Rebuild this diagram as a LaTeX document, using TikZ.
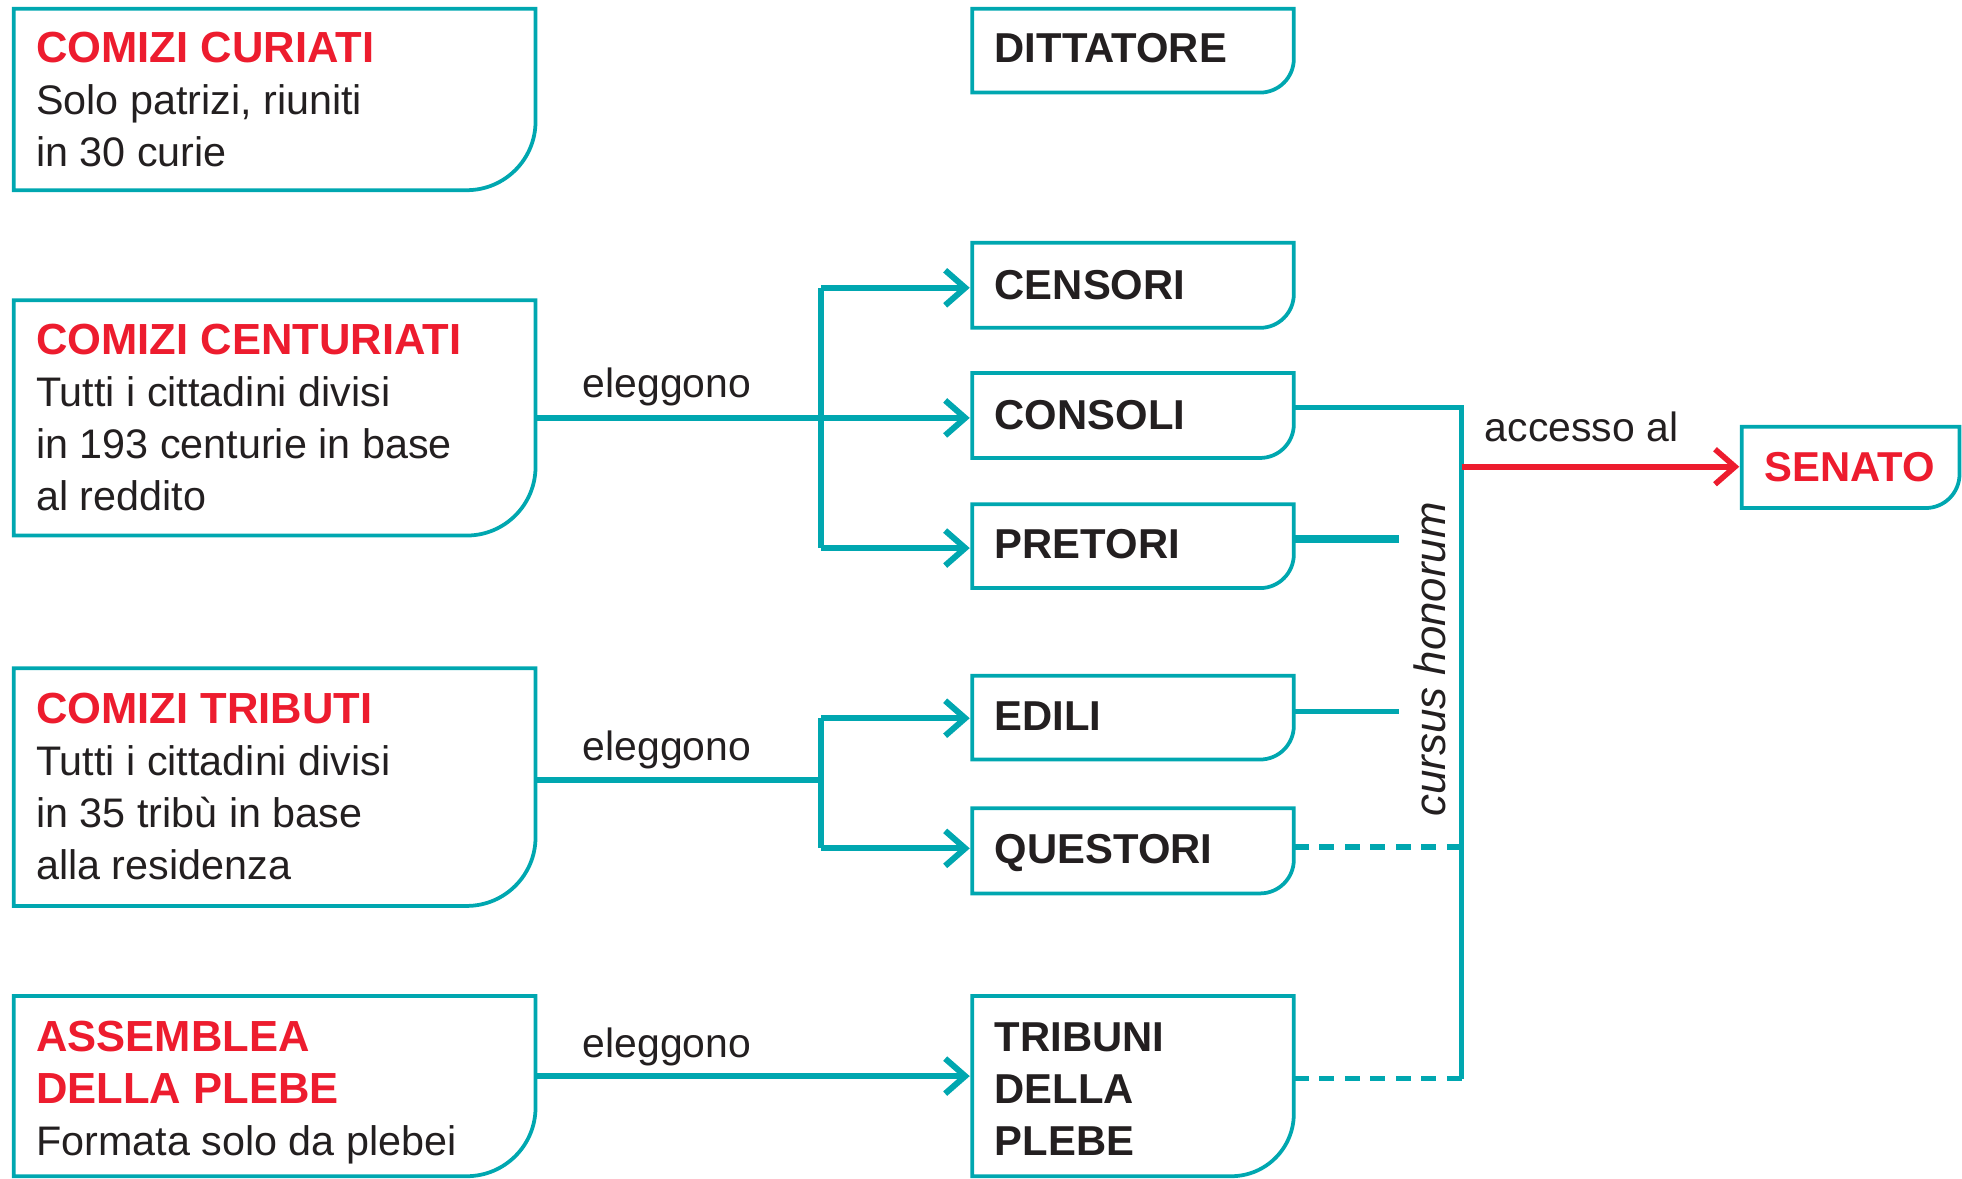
\documentclass[tikz,border=0pt]{standalone}
\usepackage{fontspec}
\setmainfont{Liberation Sans}
\usetikzlibrary{arrows.meta}
\definecolor{tealc}{HTML}{00A7B0}
\definecolor{redc}{HTML}{ED1C2E}
\definecolor{ink}{HTML}{231F20}
\newcommand{\hd}[1]{{\fontsize{34.8}{41.7}\selectfont\bfseries\color{redc}#1}}
\newcommand{\boxoutline}[2]{%
  \draw[boxline] (#1.north west) -- (#1.north east) -- ([yshift=#2]#1.south east)
    arc[start angle=0,end angle=-90,radius=#2] -- (#1.south west) -- cycle;}
\tikzset{
  boxarea/.style={draw=none,inner sep=0pt,outer sep=0pt,anchor=north west},
  boxline/.style={draw=tealc,line width=3pt},
  txt/.style={inner sep=0pt,outer sep=0pt,text=ink,font=\fontsize{33}{41.7}\selectfont,anchor=base west},
  boxtitle/.style={inner sep=0pt,outer sep=0pt,text=ink,font=\fontsize{33.4}{41.7}\selectfont\bfseries,anchor=base west},
  lbl/.style={inner sep=0pt,outer sep=0pt,text=ink,font=\fontsize{32.7}{41.7}\selectfont,anchor=base},
  conn/.style={draw=tealc,line width=4.8pt},
  arr/.style={-{Straight Barb[length=16pt,width=28pt]},shorten >=2pt},
  dashline/.style={draw=tealc,line width=4.5pt,dash pattern=on 12pt off 8.4pt},
  redarr/.style={draw=redc,line width=4.5pt,-{Straight Barb[length=16pt,width=28pt]},shorten >=2pt},
}
\begin{document}
\begin{tikzpicture}[x=1pt,y=-1pt]
\useasboundingbox (0,0) rectangle (1568,942);
% left boxes
\node[boxarea,minimum width=417pt,minimum height=145pt] (curiati) at (11,7) {};
\node[boxarea,minimum width=417pt,minimum height=188pt] (centuriati) at (11,240) {};
\node[boxarea,minimum width=417pt,minimum height=190pt] (tributi) at (11,534) {};
\node[boxarea,minimum width=417pt,minimum height=144pt] (assemblea) at (11,796) {};
% right boxes
\node[boxarea,minimum width=257pt,minimum height=67pt] (dittatore) at (777,7) {};
\node[boxarea,minimum width=257pt,minimum height=68pt] (censori) at (777,194) {};
\node[boxarea,minimum width=257pt,minimum height=68pt] (consoli) at (777,298) {};
\node[boxarea,minimum width=257pt,minimum height=67pt] (pretori) at (777,403) {};
\node[boxarea,minimum width=257pt,minimum height=67pt] (edili) at (777,540) {};
\node[boxarea,minimum width=257pt,minimum height=68pt] (questori) at (777,646) {};
\node[boxarea,minimum width=257pt,minimum height=144pt] (tribuni) at (777,796) {};
\node[boxarea,minimum width=174pt,minimum height=65pt] (senato) at (1392,341) {};
% outlines
\boxoutline{curiati}{55pt}
\boxoutline{centuriati}{55pt}
\boxoutline{tributi}{55pt}
\boxoutline{assemblea}{55pt}
\boxoutline{dittatore}{27pt}
\boxoutline{censori}{27pt}
\boxoutline{consoli}{27pt}
\boxoutline{pretori}{27pt}
\boxoutline{edili}{27pt}
\boxoutline{questori}{27pt}
\boxoutline{tribuni}{50pt}
\boxoutline{senato}{27pt}
% texts
\node[txt] (tcuriati) at (29,50) {\begin{tabular}[t]{@{}l@{}}\hd{COMIZI CURIATI}\\ Solo patrizi, riuniti\\ in 30 curie\end{tabular}};
\node[txt] (tcenturiati) at (29,283) {\begin{tabular}[t]{@{}l@{}}\hd{COMIZI CENTURIATI}\\ Tutti i cittadini divisi\\ in 193 centurie in base\\ al reddito\end{tabular}};
\node[txt] (ttributi) at (29,578) {\begin{tabular}[t]{@{}l@{}}\hd{COMIZI TRIBUTI}\\ Tutti i cittadini divisi\\ in 35 tribù in base\\ alla residenza\end{tabular}};
\node[txt] (tassemblea) at (29,840) {\begin{tabular}[t]{@{}l@{}}\hd{ASSEMBLEA}\\ \hd{DELLA PLEBE}\\ Formata solo da plebei\end{tabular}};
\node[boxtitle] (tdittatore) at (795,50) {DITTATORE};
\node[boxtitle] (tcensori) at (795,239) {CENSORI};
\node[boxtitle] (tconsoli) at (795,343) {CONSOLI};
\node[boxtitle] (tpretori) at (795,446) {PRETORI};
\node[boxtitle] (tedili) at (795,584) {EDILI};
\node[boxtitle] (tquestori) at (795,690) {QUESTORI};
\node[boxtitle] (ttribuni) at (795,840) {\begin{tabular}[t]{@{}l@{}}TRIBUNI\\ DELLA\\ PLEBE\end{tabular}};
\node[boxtitle,text=redc] (tsenato) at (1410,385) {SENATO};
% coordinates
\coordinate (j1) at (656,333);
\coordinate (j2) at (656,623);
\coordinate (j3) at (656,860);
\coordinate (ctop) at (1168,326);
\coordinate (cbot) at (1168,862);
\coordinate (cq) at (1168,677);
\coordinate (cp) at (1118,431);
\coordinate (ce) at (1118,569);
\coordinate (cs) at (1168,373);
% elections
\draw[conn,arr] (centuriati.east) -- (consoli.west |- centuriati.east);
\draw[conn] (j1 |- 0,230) -- (j1 |- 0,438);
\draw[conn,arr] (j1 |- 0,230) -- (censori.west |- 0,230);
\draw[conn,arr] (j1 |- 0,438) -- (pretori.west |- 0,438);
\draw[conn] (tributi.east |- j2) -- (j2);
\draw[conn] (j2 |- 0,574) -- (j2 |- 0,678);
\draw[conn,arr] (j2 |- 0,574) -- (edili.west |- 0,574);
\draw[conn,arr] (j2 |- 0,678) -- (questori.west |- 0,678);
\draw[conn,arr] (assemblea.east |- j3) -- (tribuni.west |- j3);
\node[lbl] (l1) at (533,318) {eleggono};
\node[lbl] (l2) at (533,608) {eleggono};
\node[lbl] (l3) at (533,845) {eleggono};
% cursus honorum
\draw[conn,line width=4pt] (consoli.east |- ctop) -- (ctop) -- (cbot);
\draw[conn,line width=6.5pt] (pretori.east |- cp) -- (cp);
\draw[conn,line width=4pt] (edili.east |- ce) -- (ce);
\draw[dashline] (questori.east |- cq) -- (cq);
\draw[dashline] (tribuni.east |- cbot) -- (cbot);
\node[lbl,rotate=90,font=\fontsize{35}{41.7}\selectfont\itshape] (cursus) at (1155,527) {cursus honorum};
\draw[redarr] (cs) -- (senato.west |- cs);
\node[lbl] (acc) at (1264,353) {accesso al};
\end{tikzpicture}
\end{document}
